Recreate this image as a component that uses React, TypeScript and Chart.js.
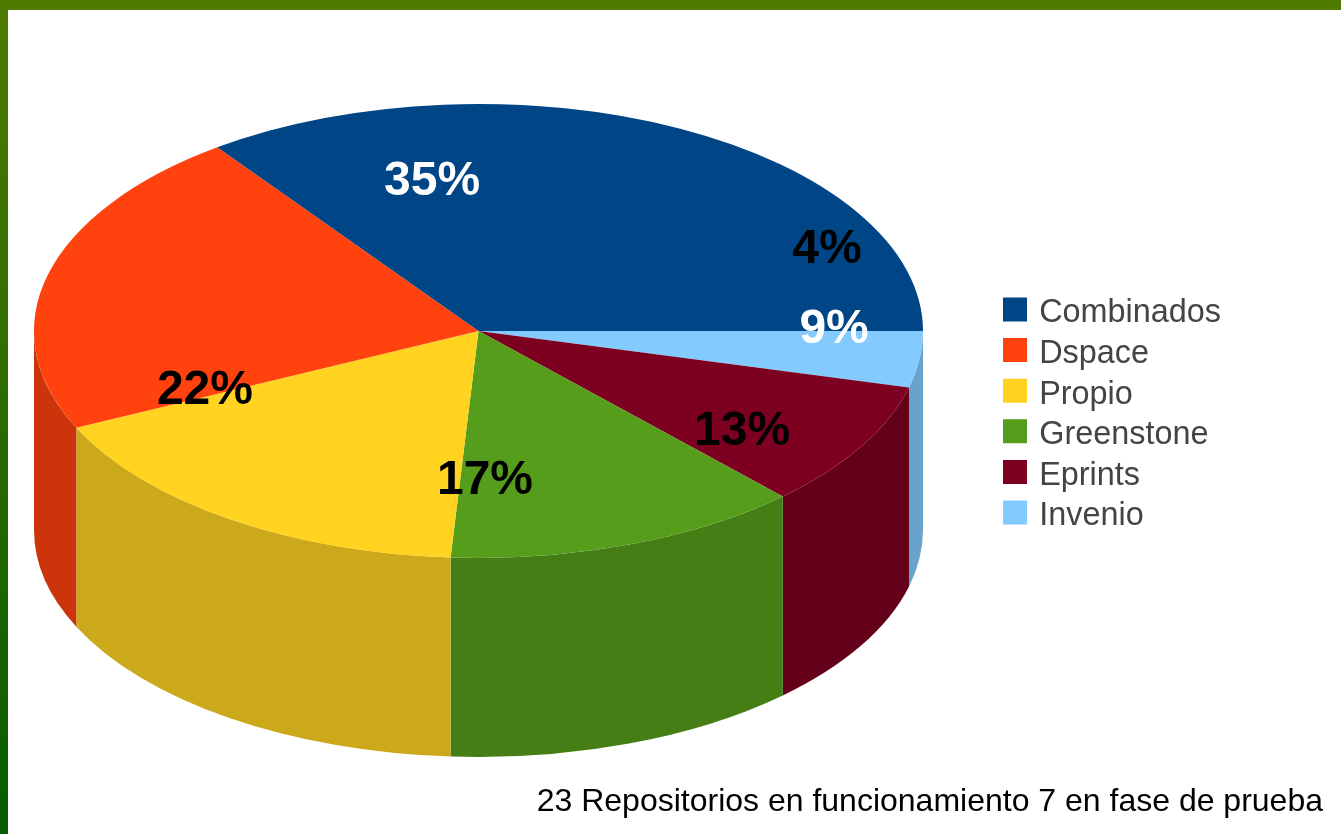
import React, { useEffect, useRef } from "react";
import { Chart, registerables } from "chart.js";

Chart.register(...registerables);

const categories = ["Combinados", "Dspace", "Propio", "Greenstone", "Eprints", "Invenio"];
const percentages = [35, 22, 17, 13, 9, 4];
const topColors = ["#004586", "#ff420e", "#ffd320", "#579d1c", "#7e0021", "#83caff"];
const sideColors = ["#00386b", "#cc350b", "#cca91a", "#467e16", "#65001a", "#69a2cc"];
const percentColors = ["#ffffff", "#000000", "#000000", "#000000", "#ffffff", "#000000"];
// Where the source tool left each percentage: turn past the slice middle (degrees), share of the radius.
const labelTurn = [36.0, 37.47, 35.47, 33.45, 31.07, 31.8];
const labelReach = [0.667, 0.669, 0.659, 0.74, 0.8, 0.862];
const footnote = "23 Repositorios en funcionamiento 7 en fase de prueba";

const PIE = { cx: 478.5, cy: 331, rx: 444.5, squash: 227 / 444.5, depth: 199 };

const rev = <T,>(a: T[]): T[] => [...a].reverse();

const pie3d = {
  id: "pie3d",
  beforeDatasetsDraw(chart: any) {
    const ctx = chart.ctx;
    const arcs = chart.getDatasetMeta(0).data;
    const ry = PIE.rx * PIE.squash;
    ctx.save();
    arcs.forEach((arc: any, i: number) => {
      const a = Math.max(arc.startAngle, 0);
      const b = Math.min(arc.endAngle, Math.PI);
      if (b <= a) return;
      ctx.beginPath();
      ctx.ellipse(PIE.cx, PIE.cy, PIE.rx, ry, 0, a, b);
      ctx.ellipse(PIE.cx, PIE.cy + PIE.depth, PIE.rx, ry, 0, b, a, true);
      ctx.closePath();
      ctx.fillStyle = rev(sideColors)[i];
      ctx.fill();
    });
    ctx.restore();
    const first = arcs[0];
    ctx.save();
    ctx.translate(PIE.cx, PIE.cy);
    ctx.scale(1, PIE.squash);
    ctx.translate(-first.x, -first.y);
  },
  afterDatasetsDraw(chart: any) {
    const ctx = chart.ctx;
    ctx.restore();
    const arcs = chart.getDatasetMeta(0).data;
    const n = arcs.length;
    ctx.save();
    ctx.font = "bold 48px 'Liberation Sans'";
    ctx.textAlign = "center";
    ctx.textBaseline = "middle";
    arcs.forEach((arc: any, i: number) => {
      const k = n - 1 - i;
      const mid = (arc.startAngle + arc.endAngle) / 2 - (labelTurn[k] * Math.PI) / 180;
      const r = arc.outerRadius * labelReach[k];
      ctx.fillStyle = percentColors[k];
      ctx.fillText(
        `${percentages[k]}%`,
        PIE.cx + r * Math.cos(mid),
        PIE.cy + r * Math.sin(mid) * PIE.squash
      );
    });
    ctx.restore();
  },
};

const legendRoom = {
  id: "legendRoom",
  beforeLayout(c: any) {
    const legend = c.legend;
    if (!legend || legend.__roomy) return;
    legend.__roomy = true;
    const fit = legend.fit;
    legend.fit = function (this: any) {
      fit.call(this);
      this.width = 324.2;
    };
    const draw = legend.draw;
    legend.draw = function (this: any) {
      const ctx = this.ctx;
      const rect = ctx.rect;
      ctx.rect = (x: number, y: number, w: number, h: number) =>
        rect.call(ctx, x, w < 40 ? y - 4 : y, w, h);
      draw.call(this);
      delete ctx.rect;
    };
  },
};

export default function App() {
  const ref = useRef<HTMLCanvasElement>(null);
  useEffect(() => {
    const baseLabels = (Chart as any).overrides.doughnut.plugins.legend.labels.generateLabels;
    const chart = new Chart(ref.current as HTMLCanvasElement, {
      type: "pie",
      data: {
        labels: rev(categories),
        datasets: [
          {
            data: rev(percentages),
            backgroundColor: rev(topColors),
            borderWidth: 0,
          },
        ],
      },
      options: {
        responsive: false,
        animation: false,
        rotation: 90,
        radius: PIE.rx,
        events: [],
        layout: { padding: { right: 18, bottom: 13, top: 9, left: 0 } },
        plugins: {
          tooltip: { enabled: false },
          title: {
            display: true,
            text: footnote,
            position: "bottom",
            align: "end",
            color: "#000000",
            padding: { top: 0, bottom: 0 },
            font: { family: "'Liberation Sans'", size: 32, weight: "normal", lineHeight: 1.2 },
          },
          legend: {
            display: true,
            position: "right",
            align: "center",
            reverse: true,
            labels: {
              boxWidth: 16,
              boxHeight: 16,
              padding: 8.2,
              color: "#444444",
              font: { family: "'Liberation Sans'", size: 32.4 },
              generateLabels: (c: any) =>
                baseLabels(c).map((item: any) => ({
                  ...item,
                  strokeStyle: item.fillStyle,
                  lineWidth: 8,
                })),
            },
          },
        },
      } as any,
      plugins: [pie3d, legendRoom] as any,
    });
    return () => chart.destroy();
  }, []);
  return (
    <div style={{ position: "fixed", inset: 0, background: "#ffffff", overflow: "hidden" }}>
      <div style={{ position: "absolute", left: 0, top: 0, right: 0, height: 10, background: "#4f7a00" }} />
      <div
        style={{
          position: "absolute",
          left: 0,
          top: 0,
          bottom: 0,
          width: 8,
          background: "linear-gradient(#4f7a00, #075c00)",
        }}
      />
      <canvas ref={ref} width={1341} height={834} style={{ position: "absolute", left: 0, top: 0 }} />
    </div>
  );
}
